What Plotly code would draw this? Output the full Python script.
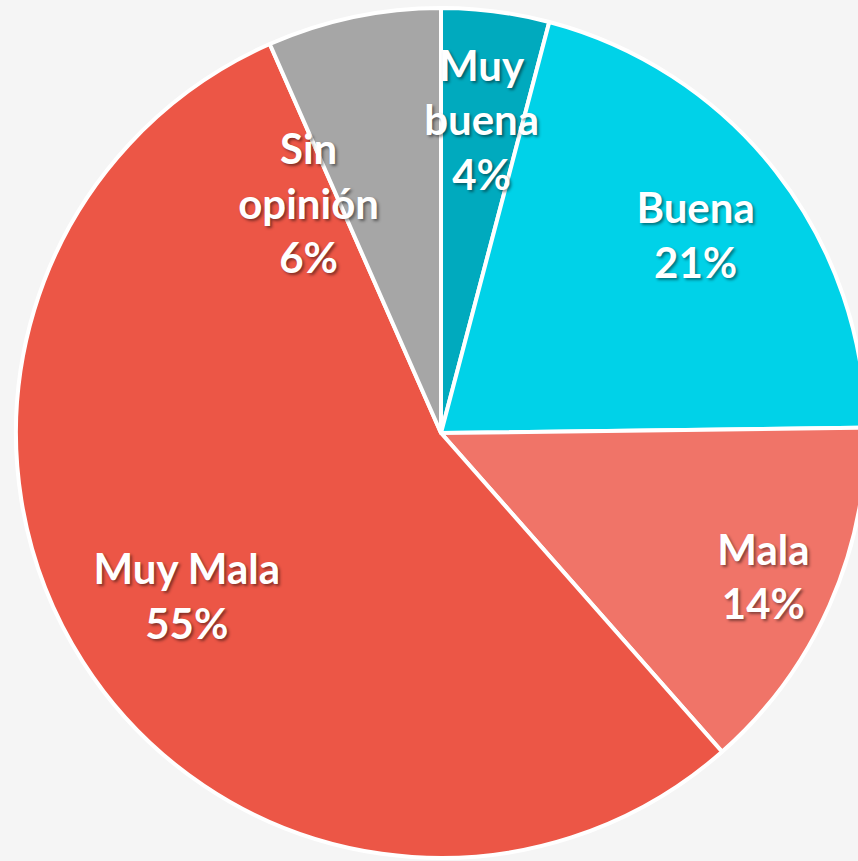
import plotly.graph_objects as go

categories = ["Muy buena", "Buena", "Mala", "Muy Mala", "Sin opinión"]
values = [4.1, 20.7, 13.7, 54.9, 6.6]
percent_labels = ["4%", "21%", "14%", "55%", "6%"]
display_names = ["Muy<br>buena", "Buena", "Mala", "Muy Mala", "Sin<br>opinión"]
colors = ["#00aabe", "#00d2e8", "#f07468", "#ec5646", "#a6a6a6"]

# per-label placement style (overlay hole, domain shrink, rotation) so each label
# sits where the reference puts it; positions are still computed by plotly
label_hole = [0.0, 0.52, 0.66, 0.42, 0.0]
label_scale = [0.84, 1.0, 1.0, 1.0, 0.754]
label_rotation = [0, 0, 0, 0, -18]

texts = [f"{n}<br>{p}" for n, p in zip(display_names, percent_labels)]
font = dict(family="Lato", size=42, color="white", weight="bold",
            shadow="2px 2px 3px rgba(0,0,0,0.45)")

fig = go.Figure()
fig.add_trace(
    go.Pie(
        labels=categories,
        values=values,
        textinfo="none",
        sort=False,
        direction="clockwise",
        rotation=0,
        marker=dict(colors=colors, line=dict(color="white", width=4)),
        hoverinfo="label+percent",
        showlegend=False,
    )
)

for i in range(len(categories)):
    k = label_scale[i]
    lo, hi = (1 - k) / 2, 1 - (1 - k) / 2
    fig.add_trace(
        go.Pie(
            labels=categories,
            values=values,
            text=[t if j == i else "" for j, t in enumerate(texts)],
            textinfo="text",
            sort=False,
            direction="clockwise",
            rotation=label_rotation[i],
            hole=label_hole[i],
            domain=dict(x=[lo, hi], y=[lo, hi]),
            marker=dict(colors=["rgba(0,0,0,0)"] * len(categories),
                        line=dict(width=0)),
            textposition="inside",
            insidetextorientation="horizontal",
            textfont=font,
            hoverinfo="skip",
            showlegend=False,
        )
    )

fig.update_layout(
    width=868,
    height=861,
    margin=dict(l=15, r=1, t=8, b=3),
    paper_bgcolor="#f5f5f5",
    plot_bgcolor="#f5f5f5",
    uniformtext=dict(minsize=42, mode="show"),
    showlegend=False,
)

fig.write_html(
    "out.html",
    config={"displayModeBar": False},
    post_script="document.body.style.margin='0';document.body.style.overflow='hidden';",
)
